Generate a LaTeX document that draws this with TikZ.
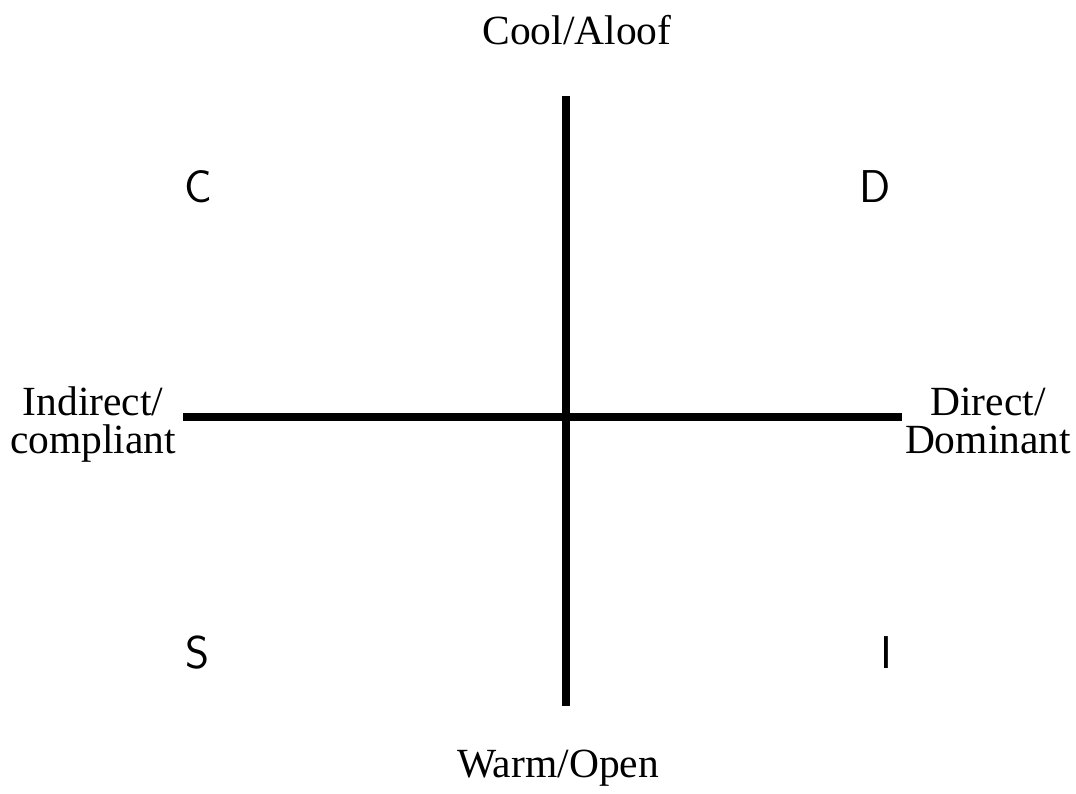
\documentclass[tikz,border=0pt]{standalone}
\usepackage{fontspec}
\setmainfont{Liberation Serif}
\usepackage{xcolor}
\usepackage{tikz}
\usetikzlibrary{positioning}
\definecolor{axisInk}{RGB}{0,0,0}
\definecolor{textDark}{RGB}{0,0,0}

\begin{document}
\begin{tikzpicture}[
    x=1pt, y=-1pt,
    every node/.style={text=textDark, inner sep=0pt},
    axislabel/.style={font=\fontsize{41.5}{38}\selectfont, align=center},
    quadrant/.style={font=\sffamily\fontsize{46}{46}\selectfont},
    axisline/.style={axisInk, line width=8pt},
]
% Canvas: x in [0, 1076], y in [0, 794] (y runs downwards)
\useasboundingbox (0,0) rectangle (1076,794);

% --- Axis end points ---
\coordinate (top)    at (566, 96);
\coordinate (bottom) at (566, 706);
\coordinate (left)   at (183, 417);
\coordinate (right)  at (902, 417);

% --- Axes ---
\draw[axisline] (left) -- (right);
\draw[axisline] (top) -- (bottom);

% --- Axis labels (base = baseline of the last line) ---
\node[axislabel, anchor=base] (cool) at (577, 45)  {Cool/Aloof};
\node[axislabel, anchor=base] (warm) at (558, 777) {Warm/Open};
\node[axislabel, anchor=base] (indirect) at (93, 453) {Indirect/\\compliant};
\node[axislabel, anchor=base] (direct)   at (988, 453) {Direct/\\Dominant};

% --- Quadrant letters ---
\node[quadrant, anchor=base] (qC) at (198, 203) {C};
\node[quadrant, anchor=base] (qD) at (875, 203) {D};
\node[quadrant, anchor=base] (qS) at (198, 668) {S};
\node[quadrant, anchor=base] (qI) at (886, 668) {I};

\end{tikzpicture}
\end{document}
